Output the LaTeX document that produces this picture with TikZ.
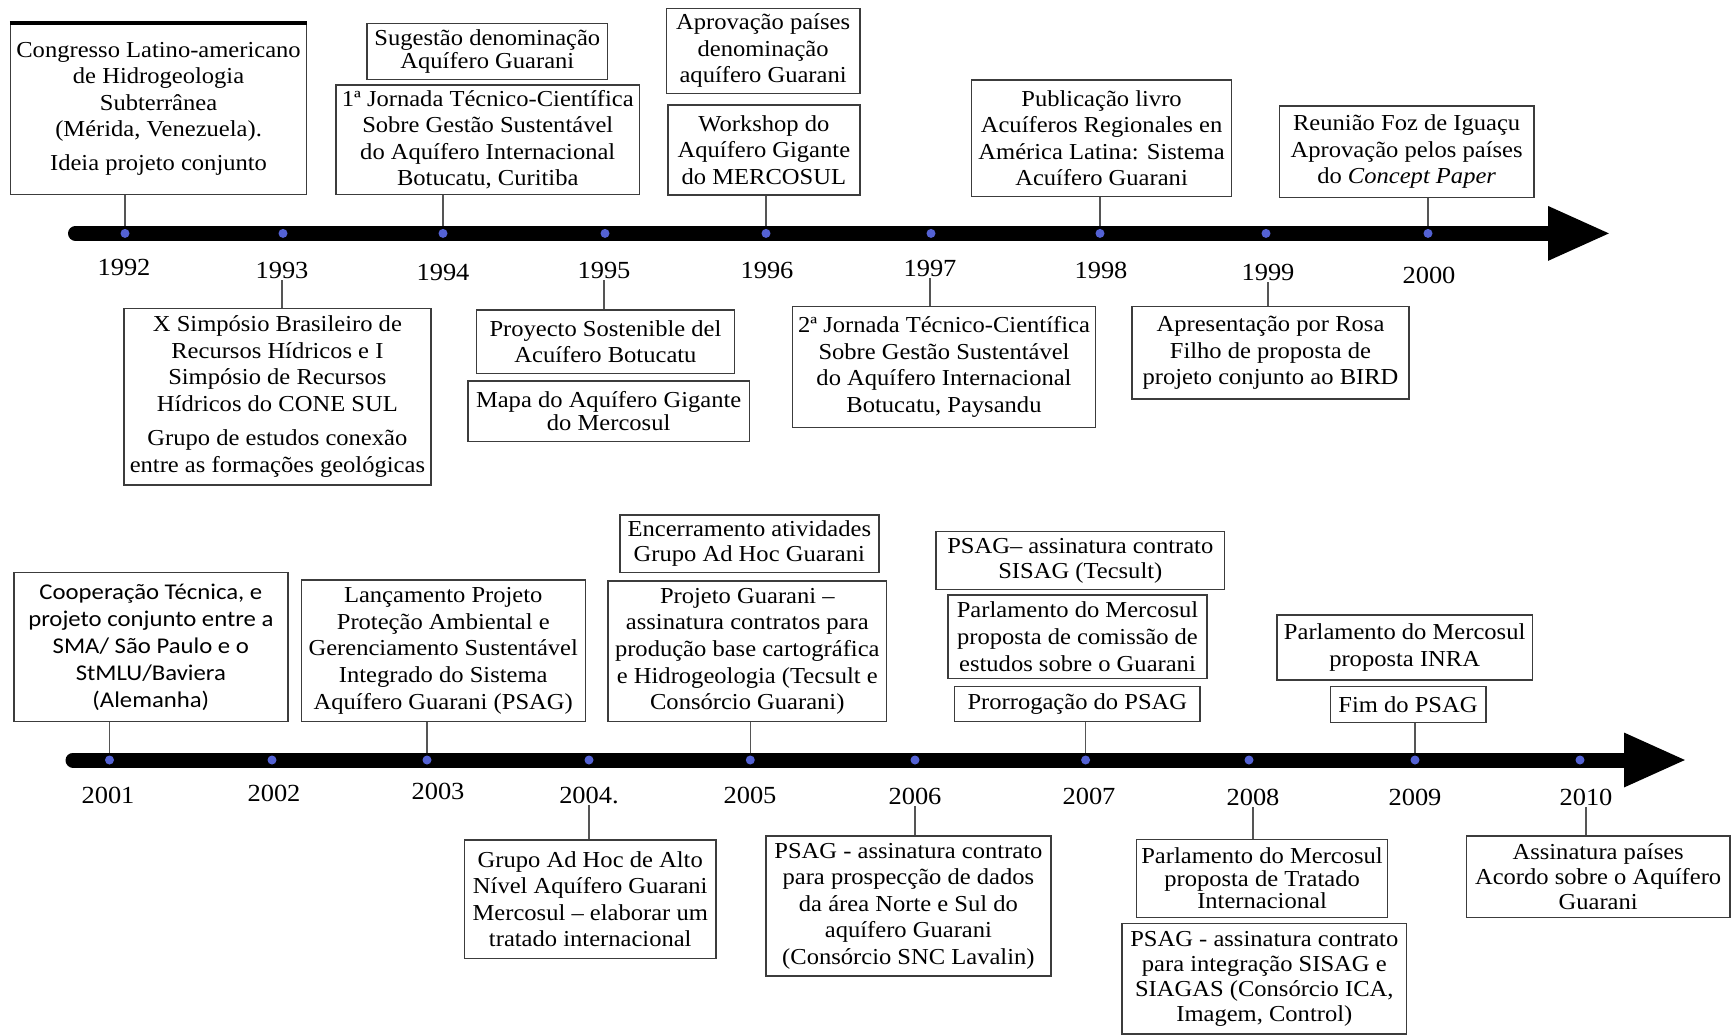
\documentclass[tikz,border=0pt]{standalone}
\usepackage{fontspec}
\setmainfont{Liberation Serif}[FakeStretch=1.075]
\newfontfamily\calibrifont{Carlito}[FakeStretch=1.1]
\usetikzlibrary{arrows.meta}

\definecolor{dotblue}{RGB}{84,98,212}
\definecolor{boxgray}{RGB}{60,60,60}
\definecolor{linegray}{RGB}{85,85,85}

\newcommand{\evfont}[1][15.1]{\fontsize{13}{#1}\selectfont}
\newcommand{\yrfont}{\fontsize{14}{16}\selectfont}

\tikzset{
  evbox/.style = {draw=boxgray, line width=0.8pt, inner sep=0pt, align=center, font=\evfont},
  evsize/.style 2 args = {minimum width=#1*0.2mm, minimum height=#2*0.2mm},
  conn/.style = {draw=linegray, line width=0.8pt},
  timeline/.style = {line width=3mm, line cap=round, -{Triangle[length=12.6mm, width=10mm]}},
  yearlab/.style = {font=\yrfont, inner sep=1pt},
}

\begin{document}
\begin{tikzpicture}[x=0.2mm, y=-0.2mm]
  \useasboundingbox (0,0) rectangle (1735,1036);

  % years 1992 - 2000
  \foreach \yr/\dx/\lx/\ly in {1992/125/124/267, 1993/283/282/270, 1994/443/443/272,
      1995/605/604/270, 1996/766/767/270, 1997/931/930/268, 1998/1100/1101/270,
      1999/1266/1268/272, 2000/1428/1429/275} {
    \coordinate (d\yr) at (\dx, 233.4);
    \node [yearlab] (y\yr) at (\lx, \ly) {\yr};
  }
  % years 2001 - 2010
  \foreach \yr/\txt/\dx/\lx/\ly in {2001/2001/109.5/108/795, 2002/2002/272/274/793,
      2003/2003/427/438/791, 2004/2004./589/589/795, 2005/2005/750.3/750/795,
      2006/2006/915/915/796, 2007/2007/1085.6/1089/796, 2008/2008/1249/1253/797,
      2009/2009/1415/1415/797, 2010/2010/1580/1586/797} {
    \coordinate (d\yr) at (\dx, 760);
    \node [yearlab] (y\yr) at (\lx, \ly) {\txt};
  }

  % first line, above
  \node [evbox, evsize={295.7}{171}] (congresso) at (158.55,108.8)
    {Congresso Latino-americano\\ de Hidrogeologia\\ Subterrânea\\ (Mérida, Venezuela).\\[1.4mm] Ideia projeto conjunto};
  \draw [line width=0.8mm] (congresso.north west) -- (congresso.north east);
  \node [evbox, font={\evfont[11.6]}, evsize={240.7}{56}] (sugestao) at (487.35,51.3)
    {Sugestão denominação\\ Aquífero Guarani};
  \node [evbox, evsize={303.5}{109.3}] (jornada1) at (487.75,139.65)
    {1ª Jornada Técnico-Científica\\ Sobre Gestão Sustentável\\ do Aquífero Internacional\\ Botucatu, Curitiba};
  \node [evbox, evsize={193.4}{85}] (aprovacao) at (763.1,50.8)
    {Aprovação países\\ denominação\\ aquífero Guarani};
  \node [evbox, evsize={191.8}{90}] (workshop) at (763.9,150)
    {Workshop do\\ Aquífero Gigante\\ do MERCOSUL};
  \node [evbox, evsize={259.7}{116.7}] (publicacao) at (1101.55,138.35)
    {Publicação livro\\ Acuíferos Regionales en\\ América Latina: Sistema\\ Acuífero Guarani};
  \node [evbox, evsize={254.3}{91.3}] (reuniao) at (1406.65,151.65)
    {Reunião Foz de Iguaçu\\ Aprovação pelos países\\ do \textit{Concept Paper}};

  % first line, below
  \node [evbox, evsize={307.2}{176.7}] (simposio) at (277.4,396.65)
    {X Simpósio Brasileiro de\\ Recursos Hídricos e I\\ Simpósio de Recursos\\ Hídricos do CONE SUL\\[1.6mm] Grupo de estudos conexão\\ entre as formações geológicas};
  \node [evbox, evsize={257.9}{63.3}] (proyecto) at (605.45,341.65)
    {Proyecto Sostenible del\\ Acuífero Botucatu};
  \node [evbox, font={\evfont[13.3]}, evsize={281.7}{60.7}] (mapa) at (608.65,411.35)
    {Mapa do Aquífero Gigante\\ do Mercosul};
  \node [evbox, evsize={302.8}{120.6}] (jornada2) at (944,367)
    {2ª Jornada Técnico-Científica\\ Sobre Gestão Sustentável\\ do Aquífero Internacional\\ Botucatu, Paysandu};
  \node [evbox, evsize={277}{92.3}] (apresentacao) at (1270.5,352.85)
    {Apresentação por Rosa\\ Filho de proposta de\\ projeto conjunto ao BIRD};

  % second line, above
  \node [evbox, font=\calibrifont\fontsize{12.8}{15.3}\selectfont, evsize={274.1}{149}] (cooperacao) at (150.85,647.2)
    {Cooperação Técnica, e\\ projeto conjunto entre a\\ SMA/ São Paulo e o\\ StMLU/Baviera\\ (Alemanha)};
  \node [evbox, evsize={283.9}{141.7}] (lancamento) at (443.25,650.85)
    {Lançamento Projeto\\ Proteção Ambiental e\\ Gerenciamento Sustentável\\ Integrado do Sistema\\ Aquífero Guarani (PSAG)};
  \node [evbox, font={\evfont[14.2]}, evsize={259}{57.7}] (encerramento) at (749.3,543.85)
    {Encerramento atividades\\ Grupo Ad Hoc Guarani};
  \node [evbox, evsize={278.8}{140.7}] (projguarani) at (747.3,651.35)
    {Projeto Guarani –\\ assinatura contratos para\\ produção base cartográfica\\ e Hidrogeologia (Tecsult e\\ Consórcio Guarani)};
  \node [evbox, font={\evfont[14.2]}, evsize={288.6}{57.6}] (sisag) at (1080.3,560.5)
    {PSAG– assinatura contrato\\ SISAG (Tecsult)};
  \node [evbox, evsize={259}{83.3}] (comissao) at (1077.5,636.65)
    {Parlamento do Mercosul\\ proposta de comissão de\\ estudos sobre o Guarani};
  \node [evbox, evsize={245.3}{35}] (prorrogacao) at (1077.35,704.2)
    {Prorrogação do PSAG};
  \node [evbox, evsize={255.5}{65}] (inra) at (1404.65,647.5)
    {Parlamento do Mercosul\\ proposta INRA};
  \node [evbox, evsize={155.6}{35.6}] (fim) at (1408,704.5)
    {Fim do PSAG};

  % second line, below
  \node [evbox, evsize={251.3}{118.3}] (adhoc) at (590.25,899.15)
    {Grupo Ad Hoc de Alto\\ Nível Aquífero Guarani\\ Mercosul – elaborar um\\ tratado internacional};
  \node [evbox, evsize={284.8}{140}] (prospeccao) at (908.4,906)
    {PSAG - assinatura contrato\\ para prospecção de dados\\ da área Norte e Sul do\\ aquífero Guarani\\ (Consórcio SNC Lavalin)};
  \node [evbox, font={\evfont[12.8]}, evsize={251.1}{78}] (tratado) at (1262.05,878.3)
    {Parlamento do Mercosul\\ proposta de Tratado\\ Internacional};
  \node [evbox, font={\evfont[14.2]}, evsize={284.6}{110.7}] (integracao) at (1264.3,978.65)
    {PSAG - assinatura contrato\\ para integração SISAG e\\ SIAGAS (Consórcio ICA,\\ Imagem, Control)};
  \node [evbox, font={\evfont[14.2]}, evsize={263.3}{81.3}] (assinatura) at (1598.15,876.65)
    {Assinatura países\\ Acordo sobre o Aquífero\\ Guarani};

  % connectors
  \draw [conn] (congresso.south -| d1992) -- (d1992);
  \draw [conn] (jornada1.south -| d1994) -- (d1994);
  \draw [conn] (workshop.south -| d1996) -- (d1996);
  \draw [conn] (publicacao.south -| d1998) -- (d1998);
  \draw [conn] (reuniao.south -| d2000) -- (d2000);
  \draw [conn] (y1993.south) -- (simposio.north -| y1993.south);
  \draw [conn] (y1995.south) -- (proyecto.north -| y1995.south);
  \draw [conn] (y1997.south) -- (jornada2.north -| y1997.south);
  \draw [conn] (y1999.south) -- (apresentacao.north -| y1999.south);
  \draw [conn] (cooperacao.south -| d2001) -- (d2001);
  \draw [conn] (lancamento.south -| d2003) -- (d2003);
  \draw [conn] (projguarani.south -| d2005) -- (d2005);
  \draw [conn] (prorrogacao.south -| d2007) -- (d2007);
  \draw [conn] (fim.south -| d2009) -- (d2009);
  \draw [conn] (y2004.south) -- (adhoc.north -| y2004.south);
  \draw [conn] (y2006.south) -- (prospeccao.north -| y2006.south);
  \draw [conn] (y2008.south) -- (tratado.north -| y2008.south);
  \draw [conn] (y2010.south) -- (assinatura.north -| y2010.south);

  % the two time lines
  \draw [timeline] (75.5, 233.4) -- (1611, 233.4);
  \draw [timeline] (73, 760) -- (1687, 760);
  \foreach \yr in {1992,...,2010}
    \fill [dotblue] (d\yr) circle [radius=0.9mm];
\end{tikzpicture}
\end{document}
